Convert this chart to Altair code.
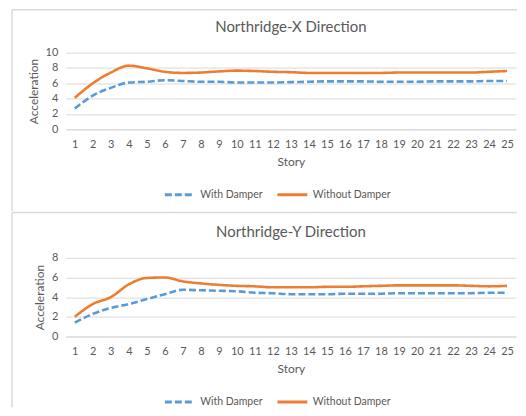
import altair as alt
import pandas as pd

stories = list(range(1, 26))
series_names = ["With Damper", "Without Damper"]

x_with = [2.7, 4.4, 5.4, 6.1, 6.2, 6.4, 6.3, 6.2, 6.2, 6.1, 6.1, 6.1, 6.15, 6.2, 6.25,
          6.25, 6.25, 6.2, 6.2, 6.2, 6.25, 6.25, 6.25, 6.3, 6.3]
x_without = [4.1, 6.0, 7.4, 8.3, 7.95, 7.5, 7.35, 7.4, 7.55, 7.65, 7.6, 7.5, 7.45, 7.35, 7.35,
             7.35, 7.35, 7.35, 7.4, 7.4, 7.4, 7.4, 7.4, 7.5, 7.6]

y_with = [1.4, 2.3, 2.9, 3.3, 3.8, 4.3, 4.75, 4.7, 4.65, 4.6, 4.45, 4.4, 4.3, 4.3, 4.3,
          4.35, 4.35, 4.35, 4.4, 4.4, 4.4, 4.4, 4.4, 4.45, 4.45]
y_without = [2.0, 3.3, 4.0, 5.3, 5.95, 6.0, 5.6, 5.4, 5.25, 5.15, 5.1, 5.0, 5.0, 5.0, 5.05,
             5.05, 5.1, 5.15, 5.2, 5.2, 5.2, 5.2, 5.15, 5.1, 5.15]


def make_df(w, wo):
    rows = []
    for s, v in zip(stories, w):
        rows.append({"Story": s, "Acceleration": v, "Series": series_names[0]})
    for s, v in zip(stories, wo):
        rows.append({"Story": s, "Acceleration": v, "Series": series_names[1]})
    return pd.DataFrame(rows)


GREY = "#595959"
FRAME = "#d9d9d9"
FONT = "Lato"


def legend(height):
    return alt.Legend(title=None, orient="none", direction="horizontal",
                      legendX=98, legendY=height + 49,
                      symbolType="stroke", symbolSize=900,
                      symbolStrokeWidth=3, columnPadding=8, labelOffset=4,
                      labelFontSize=10.5, labelColor=GREY, labelFont=FONT)


def panel(df, title, ymax, width, height, frame_top, frame_bottom, title_offset):
    lines = alt.Chart(df).mark_line(
        strokeWidth=2.6, interpolate="monotone"
    ).encode(
        x=alt.X("Story:O", title="Story",
                scale=alt.Scale(type="point", padding=0.5),
                axis=alt.Axis(labelAngle=0, ticks=False, domainColor=FRAME,
                              labelPadding=9, titlePadding=7, grid=False)),
        y=alt.Y("Acceleration:Q", title="Acceleration",
                scale=alt.Scale(domain=[0, ymax], nice=False),
                axis=alt.Axis(values=list(range(0, ymax + 1, 2)), ticks=False, domain=False,
                              gridColor=FRAME, labelPadding=8, titlePadding=5)),
        color=alt.Color("Series:N", scale=alt.Scale(domain=series_names,
                                                    range=["#5B9BD5", "#ED7D31"]),
                        legend=legend(height)),
        strokeDash=alt.StrokeDash("Series:N", scale=alt.Scale(domain=series_names,
                                                              range=[[7, 3], [1, 0]]),
                                  legend=legend(height)),
    )
    frame_df = pd.DataFrame({"k": [0]})
    frame_left = alt.Chart(frame_df).mark_rule(color=FRAME, strokeWidth=1.5, clip=False).encode(
        x=alt.value(-54), y=alt.value(frame_top), y2=alt.value(frame_bottom))
    frame_head = alt.Chart(frame_df).mark_rule(color=FRAME, strokeWidth=1.5, clip=False).encode(
        x=alt.value(-54), x2=alt.value(453), y=alt.value(frame_top))
    return alt.layer(
        lines, frame_left, frame_head,
        title=alt.TitleParams(title, fontSize=15, font=FONT, color=GREY,
                              fontWeight="normal", offset=title_offset)
    ).properties(width=width, height=height)


top = panel(make_df(x_with, x_without), "Northridge-X Direction", 10, 452, 77, -43, 159, -26)
bottom = panel(make_df(y_with, y_without), "Northridge-Y Direction", 8, 452, 79, -45.5, 150, -28.5)

chart = alt.vconcat(top, bottom, spacing=129, bounds="flush").resolve_legend(
    color="independent", strokeDash="independent"
).resolve_scale(
    color="independent", strokeDash="independent"
).properties(
    padding={"left": 3, "top": 0, "right": 0, "bottom": 0},
    background="white"
).configure_view(stroke=None).configure_axis(
    labelFont=FONT, titleFont=FONT, labelColor=GREY, titleColor=GREY,
    labelFontSize=11, titleFontSize=12, titleFontWeight="normal"
)

chart.save("out.html", embed_options={"renderer": "svg", "actions": False})
